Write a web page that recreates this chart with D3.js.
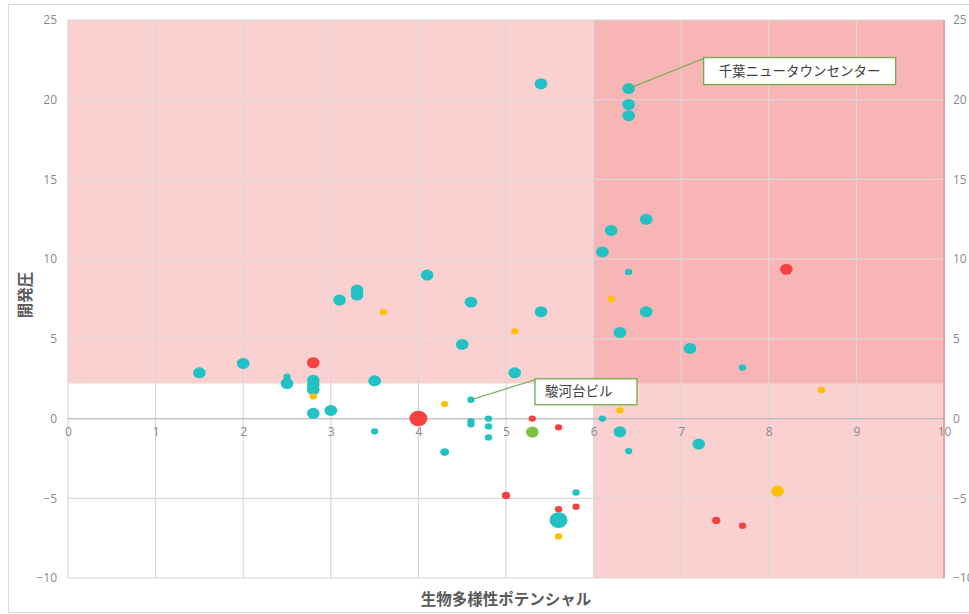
<!DOCTYPE html>
<html>
<head>
<meta charset="utf-8">
<script src="https://d3js.org/d3.v7.min.js"></script>
<style>
  body { margin: 0; background: #ffffff; }
  svg { display: block; }
</style>
</head>
<body>
<svg id="chart" width="969" height="614"></svg>
<script>
// ---------------- DATA ----------------
// Each point: [生物多様性ポテンシャル (x), 開発圧 (y), bubble size]
const tealPoints = [
  [5.4, 21.0, 3], [6.4, 20.7, 3], [6.4, 19.7, 3], [6.4, 19.0, 3],
  [6.6, 12.5, 3], [6.2, 11.8, 3], [6.1, 10.45, 3], [6.4, 9.2, 1],
  [6.6, 6.7, 3], [6.3, 5.4, 3], [7.1, 4.4, 3], [7.7, 3.2, 1],
  [5.4, 6.7, 3], [4.1, 9.0, 3], [4.6, 7.3, 3], [4.5, 4.65, 3],
  [5.1, 2.87, 3], [3.1, 7.43, 3], [3.3, 8.06, 3], [3.3, 7.75, 3],
  [3.5, 2.37, 3], [1.5, 2.87, 3], [2.0, 3.46, 3], [2.5, 2.62, 1],
  [2.5, 2.2, 3], [2.8, 2.4, 3], [2.8, 2.1, 3], [2.8, 1.8, 3],
  [2.8, 0.33, 3], [3.0, 0.51, 3], [3.5, -0.8, 1], [4.6, 1.18, 1],
  [4.6, -0.16, 1], [4.6, -0.36, 1], [4.8, 0.0, 1], [4.8, -0.49, 1],
  [4.8, -1.18, 1], [4.3, -2.1, 1.5], [5.6, -6.37, 6], [5.8, -4.63, 1],
  [6.1, 0.0, 1], [6.3, -0.83, 3], [6.4, -2.04, 1], [7.2, -1.6, 3]
];
const orangePoints = [
  [3.6, 6.68, 1], [5.1, 5.47, 1], [2.8, 1.39, 1], [4.3, 0.91, 1],
  [6.2, 7.5, 1], [6.3, 0.51, 1], [8.6, 1.79, 1], [8.1, -4.55, 3],
  [5.6, -7.39, 1]
];
const redPoints = [
  [2.8, 3.5, 3], [4.0, 0.0, 6], [5.3, 0.0, 1], [5.6, -0.55, 1],
  [5.0, -4.82, 1.3], [5.6, -5.68, 1], [5.8, -5.53, 1], [8.2, 9.36, 3],
  [7.4, -6.39, 1.3], [7.7, -6.72, 1]
];
const greenPoints = [
  [5.3, -0.85, 3]
];
const xTicks = [0, 1, 2, 3, 4, 5, 6, 7, 8, 9, 10];
const yTicks = [-10, -5, 0, 5, 10, 15, 20, 25];
const xTitle = "生物多様性ポテンシャル";
const yTitle = "開発圧";
const devThreshold = 2.2;   // 開発圧 threshold for shaded band
const bioThreshold = 6;     // 生物多様性 threshold for shaded band
const callouts = [
  { label: "千葉ニュータウンセンター", x: 6.4, y: 20.7 },
  { label: "駿河台ビル", x: 4.6, y: 1.18 }
];

// ---------------- STYLE / LAYOUT ----------------
const colors = { teal: "#22c1c3", orange: "#ffc000", red: "#f5413f", green: "#7cc242" };
const series = [
  { pts: tealPoints, color: colors.teal },
  { pts: orangePoints, color: colors.orange },
  { pts: redPoints, color: colors.red },
  { pts: greenPoints, color: colors.green }
];
const calloutLayout = [
  { dx: 75, dy: -31, w: 192, h: 27, anchor: "middle" },
  { dx: 64, dy: -21, w: 102, h: 26, anchor: "start" }
];

const svg = d3.select("#chart");
const x = d3.scaleLinear().domain([0, 10]).range([68, 944]);
const y = d3.scaleLinear().domain([-10, 25]).range([578, 20]);
const r = d3.scaleSqrt().domain([0, 6]).range([0, 7.8]);

// outer chart border
svg.append("rect").attr("x", 8.5).attr("y", 4.5).attr("width", 980).attr("height", 608)
  .attr("fill", "#ffffff").attr("stroke", "#d9d9d9");

// shaded zones (semi-transparent, overlapping)
const shade = "rgb(244,143,146)";
svg.append("rect")
  .attr("x", x(0)).attr("y", y(25)).attr("width", x(10) - x(0)).attr("height", y(devThreshold) - y(25))
  .attr("fill", shade).attr("fill-opacity", 0.42);
svg.append("rect")
  .attr("x", x(bioThreshold)).attr("y", y(25)).attr("width", x(10) - x(bioThreshold)).attr("height", y(-10) - y(25))
  .attr("fill", shade).attr("fill-opacity", 0.42);

// grid
const grid = svg.append("g");
grid.selectAll("line.v").data(xTicks).join("line").attr("class", "v")
  .attr("x1", d => x(d)).attr("x2", d => x(d)).attr("y1", y(25)).attr("y2", y(-10))
  .attr("stroke", "#dcd6d6").attr("stroke-width", 1.2);
grid.selectAll("line.h").data(yTicks).join("line").attr("class", "h")
  .attr("y1", d => y(d)).attr("y2", d => y(d)).attr("x1", x(0)).attr("x2", x(10))
  .attr("stroke", "#dcd6d6").attr("stroke-width", 1.2);

// x axis line at y = 0
svg.append("line").attr("x1", x(0)).attr("x2", x(10)).attr("y1", y(0)).attr("y2", y(0))
  .attr("stroke", "#bfbfbf").attr("stroke-width", 1.2);
// right edge line
svg.append("line").attr("x1", x(10)).attr("x2", x(10)).attr("y1", y(25)).attr("y2", y(-10))
  .attr("stroke", "#ec9fa2").attr("stroke-width", 2);

// axes (labels only)
const tickFont = "'Open Sans', 'Noto Sans', sans-serif";
function styleAxis(g) {
  g.select(".domain").remove();
  g.selectAll("text").attr("fill", "#8a8a8a").style("font-family", tickFont).style("font-size", "12px");
}
svg.append("g").attr("transform", `translate(0,${y(0)})`)
  .call(d3.axisBottom(x).tickValues(xTicks).tickSize(0).tickPadding(9).tickFormat(d3.format("d")))
  .call(styleAxis);
svg.append("g").attr("transform", `translate(${x(0)},0)`)
  .call(d3.axisLeft(y).tickValues(yTicks).tickSize(0).tickPadding(11).tickFormat(d3.format("d")))
  .call(styleAxis);
svg.append("g").attr("transform", `translate(${x(10)},0)`)
  .call(d3.axisRight(y).tickValues(yTicks).tickSize(0).tickPadding(9).tickFormat(d3.format("d")))
  .call(styleAxis);

// axis titles
const jp = "'Noto Sans CJK JP', 'Noto Sans', sans-serif";
svg.append("text").attr("x", (x(0) + x(10)) / 2).attr("y", 600).attr("dy", "0.35em")
  .attr("text-anchor", "middle").attr("fill", "#595959")
  .style("font-family", jp).style("font-size", "15.5px").style("font-weight", "bold").text(xTitle);
svg.append("text").attr("transform", `translate(26,${295}) rotate(-90)`).attr("dy", "0.35em")
  .attr("text-anchor", "middle").attr("fill", "#595959")
  .style("font-family", jp).style("font-size", "15.5px").style("font-weight", "bold").text(yTitle);

// points
series.forEach(s => {
  svg.append("g").selectAll("ellipse").data(s.pts).join("ellipse")
    .attr("cx", d => x(d[0])).attr("cy", d => y(d[1]))
    .attr("rx", d => r(d[2]) * 1.15).attr("ry", d => r(d[2]))
    .attr("fill", s.color);
});

// callouts
callouts.forEach((c, i) => {
  const L = calloutLayout[i];
  const px = x(c.x), py = y(c.y);
  const bx = px + L.dx, by = py + L.dy;
  svg.append("line").attr("x1", px).attr("y1", py).attr("x2", bx).attr("y2", by + 1)
    .attr("stroke", "#70ad47").attr("stroke-width", 1.2);
  svg.append("rect").attr("x", bx).attr("y", by).attr("width", L.w).attr("height", L.h)
    .attr("fill", "#ffffff").attr("stroke", "#70ad47").attr("stroke-width", 1.3);
  svg.append("text")
    .attr("x", L.anchor === "middle" ? bx + L.w / 2 : bx + 10)
    .attr("y", by + L.h / 2).attr("dy", "0.35em")
    .attr("text-anchor", L.anchor).attr("fill", "#404040")
    .style("font-family", jp).style("font-size", "13.5px").text(c.label);
});
</script>
</body>
</html>
